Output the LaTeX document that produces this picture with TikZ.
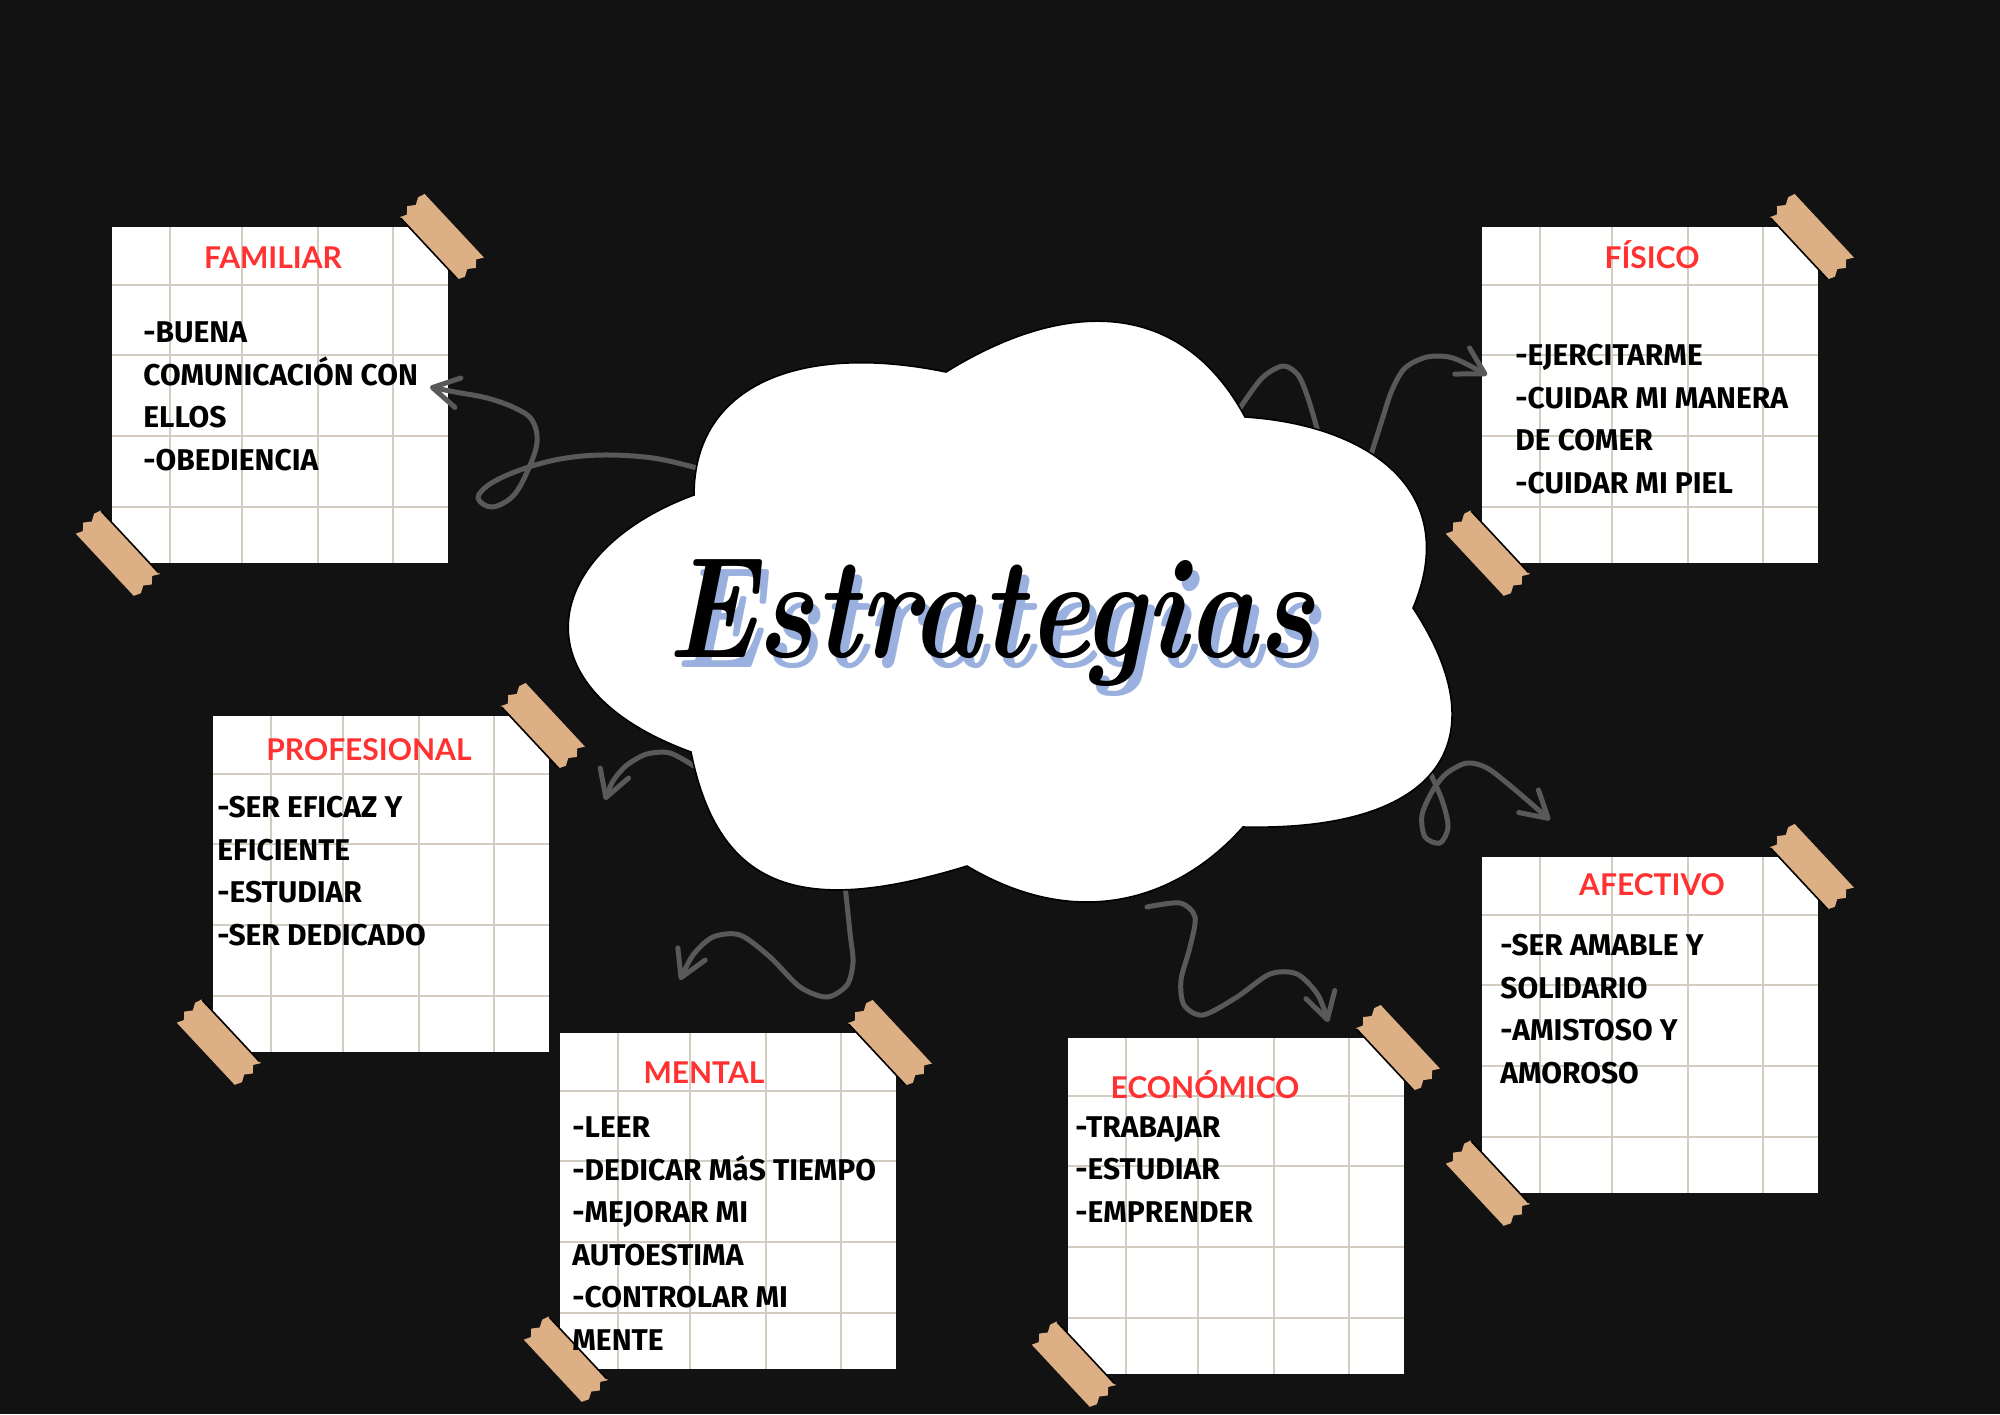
\documentclass[tikz,border=0pt]{standalone}
\usepackage{fontspec}
\usepackage{graphicx}
\usetikzlibrary{arrows.meta}
\definecolor{bg}{HTML}{121212}
\definecolor{tapec}{HTML}{DCAF84}
\definecolor{gridc}{HTML}{D2CCC1}
\definecolor{headred}{HTML}{FF3131}
\definecolor{arrowc}{HTML}{595959}
\definecolor{shadowblue}{HTML}{9AB0DF}
\newfontfamily\headfont{Lato}
\newfontfamily\bodyfont{Fira Sans}

\tikzset{
  gridline/.style={draw=gridc, line width=1pt},
  heading/.style={anchor=base, text=headred, inner sep=0pt, font=\headfont\bfseries\fontsize{15}{18}\selectfont},
  body/.style={anchor=base west, align=left, text=black, inner sep=0pt, font=\bodyfont\bfseries\fontsize{15}{21.25}\selectfont},
  flow/.style={draw=arrowc, line width=2.5pt, line cap=round, line join=round},
  flowarrow/.style={flow, -{Straight Barb[length=13pt,width=15pt,round]}},
  titlefont/.style={anchor=base, inner sep=0pt, font=\bfseries\itshape\fontsize{59}{66}\selectfont},
}

\newcommand\tapepiece[3]{%
  \begin{scope}[shift={(#1,#2)},rotate=-47]
    \fill[tapec] (-43,-17) -- (44,-17) -- (40,-10) -- (46,-4) -- (41,3) -- (45,10) -- (42,17)
      -- (-43,17) -- (-40,10) -- (-46,4) -- (-41,-3) -- (-45,-10) -- cycle;
    \draw[black,line width=0.8pt] (-42,{17*(#3)}) -- (42,{17*(#3)});
  \end{scope}}

\newcommand\papernote[2]{%
  \begin{scope}[shift={(#1,#2)}]
    \fill[white] (0,0) rectangle (336,336);
    \foreach \gx in {58,130,206,281} \draw[gridline] (\gx,0) -- (\gx,336);
    \foreach \gy in {58,128,209,280} \draw[gridline] (0,\gy) -- (336,\gy);
    \tapepiece{329.5}{10}{1}
    \tapepiece{5.5}{326.5}{-1}
  \end{scope}}

\begin{document}
\begin{tikzpicture}[x=0.5pt,y=-0.5pt]
\useasboundingbox (0,0) rectangle (2000,1414);
\fill[bg] (0,0) rectangle (2000,1414);

% notes
\papernote{112}{227}
\papernote{1482}{227}
\papernote{213}{716}
\papernote{560}{1033}
\papernote{1068}{1038}
\papernote{1482}{857}

% headings
\node[heading] (hfam) at (273,268) {FAMILIAR};
\node[heading] (hfis) at (1652,268) {FÍSICO};
\node[heading] (hpro) at (369,760) {PROFESIONAL};
\node[heading] (hmen) at (704,1083) {MENTAL};
\node[heading] (heco) at (1205,1098) {ECONÓMICO};
\node[heading] (hafe) at (1652,895) {AFECTIVO};

% bodies (anchor = baseline of the last line)
\node[body] (bfam) at (143,470) {-BUENA\\COMUNICACIÓN CON\\ELLOS\\-OBEDIENCIA};
\node[body] (bfis) at (1515,493) {-EJERCITARME\\-CUIDAR MI MANERA\\DE COMER\\-CUIDAR MI PIEL};
\node[body] (bpro) at (217,945) {-SER EFICAZ Y\\EFICIENTE\\-ESTUDIAR\\-SER DEDICADO};
\node[body] (bmen) at (572,1350) {-LEER\\-DEDICAR MáS TIEMPO\\-MEJORAR MI\\AUTOESTIMA\\-CONTROLAR MI\\MENTE};
\node[body] (beco) at (1075,1222) {-TRABAJAR\\-ESTUDIAR\\-EMPRENDER};
\node[body] (bafe) at (1500,1083) {-SER AMABLE Y\\SOLIDARIO\\-AMISTOSO Y\\AMOROSO};

% connectors
\coordinate (famS) at (697,468);
\coordinate (famE) at (430,387);
\draw[flowarrow] plot[smooth,tension=0.6] coordinates {(famS) (653,458) (603,455) (560,459) (520,470) (490,484) (478,498) (492,507) (513,496) (528,470) (537,442) (532,420) (515,408) (487,398) (455,392) (famE)};

\coordinate (humpS) at (1240,408);
\coordinate (humpE) at (1318,432);
\draw[flow] plot[smooth] coordinates {(humpS) (1262,378) (1283,366) (1298,375) (1308,398) (humpE)};

\coordinate (fisS) at (1370,458);
\coordinate (fisE) at (1487,375);
\draw[flowarrow] plot[smooth] coordinates {(fisS) (1382,420) (1392,390) (1405,368) (1427,357) (1453,358) (fisE)};

\coordinate (proS) at (694,766);
\coordinate (proE) at (605,800);
\draw[flowarrow] plot[smooth] coordinates {(proS) (670,753) (647,754) (627,765) (613,781) (proE)};

\coordinate (menS) at (845,885);
\coordinate (menE) at (680,980);
\draw[flowarrow] plot[smooth] coordinates {(menS) (850,933) (853,962) (847,985) (827,997) (800,987) (770,957) (740,935) (713,937) (693,955) (menE)};

\coordinate (ecoS) at (1147,907);
\coordinate (ecoE) at (1328,1022);
\draw[flowarrow] plot[smooth] coordinates {(ecoS) (1180,903) (1195,917) (1190,947) (1181,980) (1184,1005) (1203,1015) (1237,997) (1270,974) (1297,974) (1318,995) (ecoE)};

\coordinate (afeS) at (1426,764);
\coordinate (afeE) at (1550,820);
\draw[flowarrow] plot[smooth] coordinates {(afeS) (1442,800) (1448,827) (1440,843) (1425,837) (1422,815) (1433,790) (1447,773) (1467,763) (1487,768) (1513,788) (afeE)};

% cloud
\path[fill=white, draw=black, line width=0.8pt]
  (694,495) .. controls (694,385) and (800,342) .. (946,372)
  .. controls (1066,297.6) and (1181,298.6) .. (1245,417)
  .. controls (1369,425) and (1462.5,491) .. (1413,608)
  .. controls (1500,740) and (1441,831.5) .. (1243,827)
  .. controls (1181,897) and (1081,934) .. (967,866)
  .. controls (804.5,916) and (719,892) .. (691,752)
  .. controls (510.6,686) and (544,550) .. (694,495) -- cycle;

% title
\node[titlefont, text=shadowblue] (titleshadow) at (998,667) {\scalebox{1}[1.22]{Estrategias}};
\node[titlefont, text=black] (title) at (991,657) {\scalebox{1}[1.22]{Estrategias}};
\end{tikzpicture}
\end{document}
